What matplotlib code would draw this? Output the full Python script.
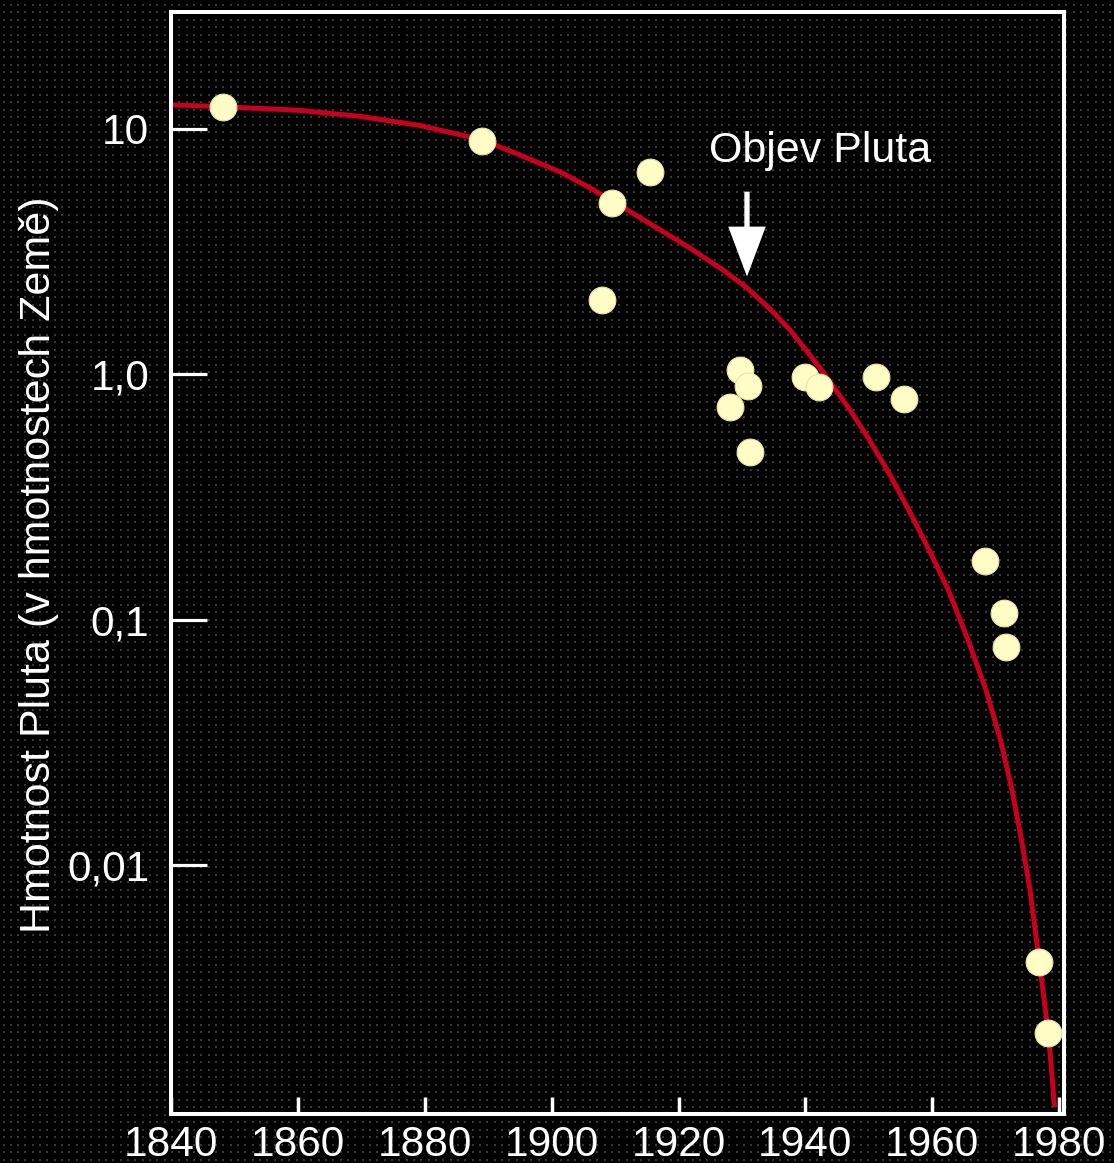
import numpy as np
import matplotlib
matplotlib.use("Agg")
import matplotlib.pyplot as plt
from matplotlib.patches import ArrowStyle

plt.rcParams['font.family'] = ['Liberation Sans', 'DejaVu Sans']

# published estimates of Pluto's mass (in Earth masses) by year
est_year = [1848.2, 1889.0, 1909.5, 1915.5, 1908.0, 1929.7, 1931.0, 1928.1, 1931.2,
            1940.0, 1942.2, 1951.15, 1955.6, 1968.3, 1971.3, 1971.6, 1976.9, 1978.3]
est_mass = [12.26, 8.96, 5.01, 6.70, 2.00, 1.041, 0.896, 0.734, 0.481,
            0.978, 0.885, 0.972, 0.793, 0.1734, 0.1062, 0.0776, 0.00403, 0.00206]

# trend curve through the estimates
trend_year = [1840.0, 1848.15, 1860.3, 1869.76, 1879.23, 1889.01, 1895.0, 1901.31,
              1906.04, 1909.51, 1916.61, 1921.81, 1927.02, 1930.8, 1934.43, 1937.59,
              1942.32, 1947.05, 1949.73, 1953.36, 1956.99, 1959.67, 1962.56, 1965.66,
              1968.5, 1970.79, 1972.6, 1974.1, 1975.44, 1976.91, 1978.33, 1978.83, 1979.31]
trend_mass = [12.53, 12.32, 11.90, 11.25, 10.33, 9.02, 7.83, 6.68,
              5.75, 5.09, 3.95, 3.27, 2.66, 2.25, 1.846, 1.516,
              1.061, 0.715, 0.560, 0.3887, 0.2595, 0.1887, 0.1320, 0.0826,
              0.0516, 0.0323, 0.0202, 0.01264, 0.00790, 0.00403, 0.00206, 0.00146, 0.00103]

x_ticks = [1840, 1860, 1880, 1900, 1920, 1940, 1960, 1980]
y_ticks = [10, 1, 0.1, 0.01]
y_ticklabels = ['10', '1,0', '0,1', '0,01']

W, H = 1114, 1163
fig = plt.figure(figsize=(W / 100, H / 100), dpi=100, facecolor='black')

# faint dotted screen behind everything
bg = np.zeros((H, W, 3))
for r in np.arange(4, H, 7.5).astype(int):
    for c in np.arange(3, W, 7.33).astype(int):
        bg[r:r + 2, c:c + 2] = 0.22
fig.figimage(bg, xo=0, yo=0, zorder=-1)

ax = fig.add_axes([171.3 / W, 49.5 / H, 892.7 / W, 1102 / H])
ax.set_facecolor('none')
ax.set_yscale('log')
ax.set_xlim(1840, 1980.8)
ax.set_ylim(0.00097, 30.1)

ax.plot(trend_year, trend_mass, color='#c8001e', lw=3.6, solid_capstyle='butt', zorder=2)
ax.scatter(est_year, est_mass, s=370, color='#fffcc6', edgecolors='#ece59c',
           linewidths=0.8, zorder=3)

# discovery marker: filled arrow with a thin shaft
ax.annotate('', xy=(1930.8, 2.50), xytext=(1930.8, 5.55),
            arrowprops=dict(arrowstyle=ArrowStyle('simple', head_length=3.6,
                                                  head_width=2.7, tail_width=0.38),
                            mutation_scale=10, facecolor='white', edgecolor='none',
                            lw=0, shrinkA=0, shrinkB=0))
ax.text(1942.4, 7.35, 'Objev Pluta', color='white', fontsize=31,
        ha='center', va='baseline')

for sp in ax.spines.values():
    sp.set_color('white')
    sp.set_linewidth(2.9)

ax.set_xticks(x_ticks)
ax.set_xticklabels([str(v) for v in x_ticks])
ax.set_yticks(y_ticks)
ax.set_yticklabels(y_ticklabels)
ax.minorticks_off()
ax.tick_params(axis='x', direction='in', length=12, width=2.5, color='white',
               labelcolor='white', labelsize=30.5, pad=8)
ax.tick_params(axis='y', direction='in', length=26, width=2.3, color='white',
               labelcolor='white', labelsize=30.5, pad=15.8)

ax.set_ylabel('Hmotnost Pluta (v hmotnostech Země)', color='white', fontsize=31)
ax.yaxis.set_label_coords(-0.1258, 0.4977)

fig.savefig('out.png', dpi=100, facecolor='black')
